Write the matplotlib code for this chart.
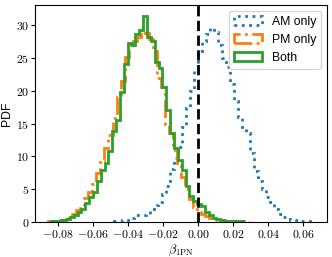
import numpy as np
import matplotlib
matplotlib.use("Agg")
import matplotlib.pyplot as plt
from matplotlib.ticker import FuncFormatter

plt.rcParams['mathtext.fontset'] = 'cm'

# density histograms of beta_1PN (50 bins each)
am_start, am_stop = -0.0480, 0.0660
am_only = [0.1, 0.2, 0.3, 0.3, 0.6, 1.0, 1.0, 1.1, 1.3, 2.0,
           2.6, 3.0, 4.2, 5.5, 8.0, 9.8, 11.4, 14.5, 17.3, 20.0,
           23.0, 26.0, 27.5, 28.6, 29.5, 29.0, 27.0, 25.0, 23.6, 21.0,
           18.5, 16.0, 14.5, 13.5, 10.5, 7.8, 6.2, 5.0, 3.8, 3.0,
           2.0, 1.3, 0.8, 0.5, 0.3, 0.3, 0.2, 0.2, 0.1, 0.1]

pm_start, pm_stop = -0.0855, 0.0295
pm_only = [0.15, 0.15, 0.2, 0.3, 0.5, 0.8, 1.3, 1.9, 2.4, 3.6,
           4.6, 5.8, 7.5, 9.5, 11.3, 13.2, 15.8, 19.0, 21.5, 25.2,
           27.0, 27.6, 28.2, 29.6, 28.8, 27.8, 26.0, 22.0, 20.5, 15.0,
           13.5, 11.0, 9.0, 6.8, 5.0, 3.5, 2.3, 1.6, 1.2, 0.9,
           0.6, 0.4, 0.3, 0.25, 0.2, 0.15, 0.1, 0.1, 0.1, 0.05]

both_start, both_stop = -0.0840, 0.0260
both = [0.1, 0.1, 0.2, 0.3, 0.4, 0.7, 1.0, 1.6, 2.0, 2.9,
        3.8, 4.6, 6.2, 7.9, 9.0, 10.8, 13.8, 15.5, 19.8, 24.0,
        27.3, 27.0, 28.6, 29.3, 31.4, 28.2, 27.5, 24.3, 23.5, 20.5,
        17.0, 13.5, 11.2, 9.4, 7.9, 5.5, 4.0, 3.2, 2.8, 2.4,
        1.5, 1.0, 0.6, 0.4, 0.3, 0.2, 0.2, 0.1, 0.1, 0.1]


def draw_hist(ax, start, stop, vals, **kw):
    bins = np.linspace(start, stop, len(vals) + 1)
    ax.hist(bins[:-1], bins=bins, weights=vals, histtype='step', **kw)


fig = plt.figure(figsize=(3.32, 2.57), dpi=100)
ax = fig.add_axes([0.105, 0.136, 0.880, 0.846])

draw_hist(ax, am_start, am_stop, am_only, color='C0', ls=':', lw=2, label='AM only')
draw_hist(ax, pm_start, pm_stop, pm_only, color='C1', ls='-.', lw=2, label='PM only')
draw_hist(ax, both_start, both_stop, both, color='C2', ls='-', lw=2, label='Both')
ax.axvline(0.0, color='k', ls='--', lw=2)

ax.set_xlim(-0.093, 0.0737)
ax.set_ylim(0, 33.1)
ax.set_xticks([-0.08, -0.06, -0.04, -0.02, 0.0, 0.02, 0.04, 0.06])
ax.set_yticks([0, 5, 10, 15, 20, 25, 30])
ax.xaxis.set_major_formatter(FuncFormatter(lambda v, p: r'$%.2f$' % v if abs(v) > 1e-9 else r'$0.00$'))
ax.yaxis.set_major_formatter(FuncFormatter(lambda v, p: r'$%d$' % v))
ax.tick_params(labelsize=8.5, length=2.6, pad=1.5)

ax.set_xlabel(r'$\beta_{\rm 1PN}$', fontsize=9, labelpad=1)
ax.set_ylabel('PDF', fontsize=8.8, family='Liberation Sans', labelpad=2)
ax.legend(loc='upper right', prop={'family': 'Liberation Sans', 'size': 8.8}, handlelength=2.3)

fig.savefig('out.png', dpi=100)
